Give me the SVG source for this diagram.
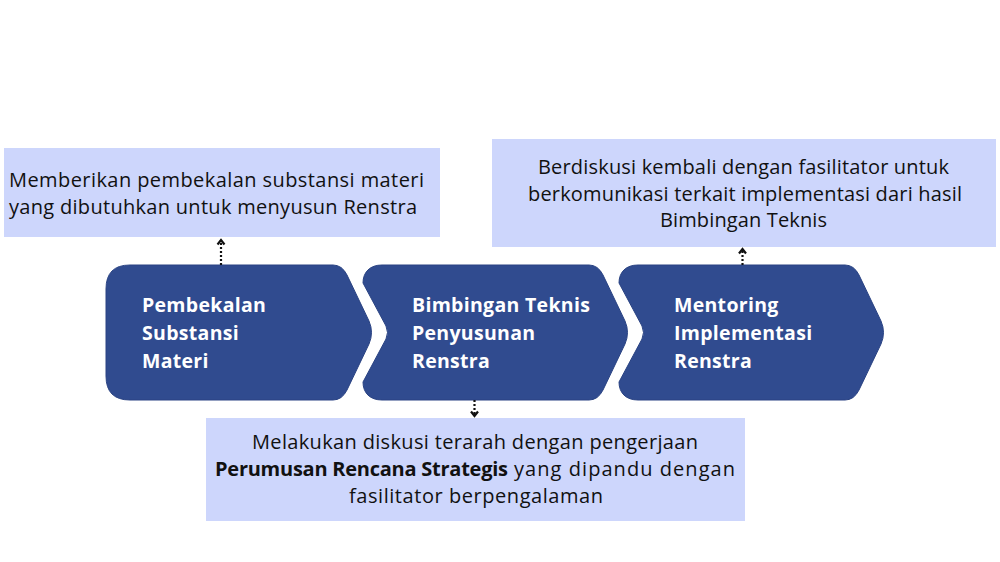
<svg xmlns="http://www.w3.org/2000/svg" width="1000" height="562" viewBox="0 0 1000 562">
<style>
.chev{fill:#304b8f;stroke:#2a4383;stroke-width:1}
.box{fill:#cdd6fc}
.lbl{font-family:"Open Sans","Noto Sans",sans-serif;font-weight:700;font-size:19.5px;fill:#ffffff;letter-spacing:0.3px}
.txt{font-family:"Open Sans","Noto Sans",sans-serif;font-size:20px;fill:#111111}
.b{font-weight:700}
.conn{stroke:#111111;stroke-width:2.2;stroke-dasharray:2 2;fill:none}
</style>
<defs>
<marker id="arr" viewBox="0 0 10 10" refX="6" refY="5" markerWidth="10" markerHeight="10" markerUnits="userSpaceOnUse" orient="auto">
<path d="M1.5,1.5 L6,5 L1.5,8.5" fill="none" stroke="#111111" stroke-width="2.2"/>
</marker>
</defs>
<rect width="1000" height="562" fill="#ffffff"/>

<g id="box-pembekalan">
<rect class="box" x="4" y="148" width="436" height="89"/>
<text class="txt"><tspan x="9" y="187" textLength="415" lengthAdjust="spacing">Memberikan pembekalan substansi materi</tspan><tspan x="9" y="214" textLength="408" lengthAdjust="spacing">yang dibutuhkan untuk menyusun Renstra</tspan></text>
</g>

<g id="box-mentoring">
<rect class="box" x="492" y="139" width="504" height="108"/>
<text class="txt" text-anchor="middle"><tspan x="743.5" y="173.5" textLength="411" lengthAdjust="spacing">Berdiskusi kembali dengan fasilitator untuk</tspan><tspan x="745" y="200.5" textLength="434" lengthAdjust="spacing">berkomunikasi terkait implementasi dari hasil</tspan><tspan x="743.5" y="227" textLength="167" lengthAdjust="spacing">Bimbingan Teknis</tspan></text>
</g>

<g id="box-bimtek">
<rect class="box" x="206" y="418" width="539" height="103"/>
<text class="txt"><tspan x="252" y="449.3" textLength="446" lengthAdjust="spacing">Melakukan diskusi terarah dengan pengerjaan</tspan><tspan class="b" x="215" y="476" textLength="293" lengthAdjust="spacing">Perumusan Rencana Strategis</tspan><tspan x="514" y="476" textLength="221" lengthAdjust="spacing">yang dipandu dengan</tspan><tspan x="349" y="503.3" textLength="254" lengthAdjust="spacing">fasilitator berpengalaman</tspan></text>
</g>

<g id="node-pembekalan">
<path class="chev" d="M130,265 H333 Q342,265 347,275 L369,321 Q374,332.5 369,344 L347,390 Q342,400 333,400 H130 Q106,400 106,376 V289 Q106,265 130,265 Z"/>
<text class="lbl"><tspan x="142" y="312">Pembekalan</tspan><tspan x="142" y="340">Substansi</tspan><tspan x="142" y="368">Materi</tspan></text>
</g>

<g id="node-bimtek">
<path class="chev" d="M382,265 H589 Q598,265 603,275 L625,321 Q630,332.5 625,344 L603,390 Q598,400 589,400 H382 C370,400 363,393 363,382 L386,339 Q389,332.5 386,326 L363,283 C363,272 370,265 382,265 Z"/>
<text class="lbl"><tspan x="412" y="312">Bimbingan Teknis</tspan><tspan x="412" y="340">Penyusunan</tspan><tspan x="412" y="368">Renstra</tspan></text>
</g>

<g id="node-mentoring">
<path class="chev" d="M638,265 H845 Q854,265 859,275 L881,321 Q886,332.5 881,344 L859,390 Q854,400 845,400 H638 C626,400 619,393 619,382 L642,339 Q645,332.5 642,326 L619,283 C619,272 626,265 638,265 Z"/>
<text class="lbl"><tspan x="674" y="312">Mentoring</tspan><tspan x="674" y="340">Implementasi</tspan><tspan x="674" y="368">Renstra</tspan></text>
</g>

<g id="connectors">
<line class="conn" x1="221" y1="265" x2="221" y2="240" marker-end="url(#arr)"/>
<line class="conn" x1="474.5" y1="400" x2="474.5" y2="416" marker-end="url(#arr)"/>
<line class="conn" x1="742.5" y1="265" x2="742.5" y2="249" marker-end="url(#arr)"/>
</g>
</svg>
